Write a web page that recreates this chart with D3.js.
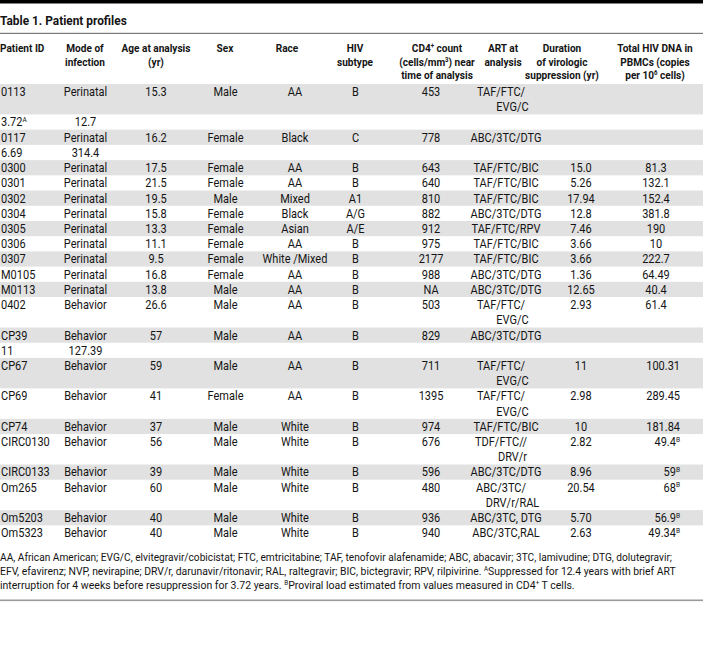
<!DOCTYPE html>
<html><head><meta charset="utf-8">
<script src="https://cdn.jsdelivr.net/npm/d3@7"></script>
<style>body{margin:0;background:#fff}svg{display:block}</style>
</head><body><svg id="c" width="703" height="661"></svg>
<script>
// ---------- DATA ----------
const title = "Table 1. Patient profiles";
const headerLines = [
  ["Patient ID"],
  ["Mode of","infection"],
  ["Age at analysis","(yr)"],
  ["Sex"],
  ["Race"],
  ["HIV","subtype"],
  ["CD4{+} count","(cells/mm{3}) near","time of analysis"],
  ["ART at","analysis"],
  ["Duration","of virologic","suppression (yr)"],
  ["Total HIV DNA in","PBMCs (copies","per 10{6} cells)"]
];
const patientIds = ["0113","3.72{A}","0117","6.69","0300","0301","0302","0304","0305","0306","0307","M0105","M0113","0402","CP39","11","CP67","CP69","CP74","CIRC0130","CIRC0133","Om265","Om5203","Om5323"];
const modes = ["Perinatal","12.7","Perinatal","314.4","Perinatal","Perinatal","Perinatal","Perinatal","Perinatal","Perinatal","Perinatal","Perinatal","Perinatal","Behavior","Behavior","127.39","Behavior","Behavior","Behavior","Behavior","Behavior","Behavior","Behavior","Behavior"];
const ages = ["15.3","","16.2","","17.5","21.5","19.5","15.8","13.3","11.1","9.5","16.8","13.8","26.6","57","","59","41","37","56","39","60","40","40"];
const sexes = ["Male","","Female","","Female","Female","Male","Female","Female","Female","Female","Female","Male","Male","Male","","Male","Female","Male","Male","Male","Male","Male","Male"];
const races = ["AA","","Black","","AA","AA","Mixed","Black","Asian","AA","White /Mixed","AA","AA","AA","AA","","AA","AA","White","White","White","White","White","White"];
const subtypes = ["B","","C","","B","B","A1","A/G","A/E","B","B","B","B","B","B","","B","B","B","B","B","B","B","B"];
const cd4Counts = ["453","","778","","643","640","810","882","912","975","2177","988","NA","503","829","","711","1395","974","676","596","480","936","940"];
const artRegimens = [["TAF/FTC/","EVG/C"],[],["ABC/3TC/DTG"],[],["TAF/FTC/BIC"],["TAF/FTC/BIC"],["TAF/FTC/BIC"],["ABC/3TC/DTG"],["TAF/FTC/RPV"],["TAF/FTC/BIC"],["TAF/FTC/BIC"],["ABC/3TC/DTG"],["ABC/3TC/DTG"],["TAF/FTC/","EVG/C"],["ABC/3TC/DTG"],[],["TAF/FTC/","EVG/C"],["TAF/FTC/","EVG/C"],["TAF/FTC/BIC"],["TDF/FTC//","DRV/r"],["ABC/3TC/DTG"],["ABC/3TC/","DRV/r/RAL"],["ABC/3TC, DTG"],["ABC/3TC,RAL"]];
const durations = ["","","","","15.0","5.26","17.94","12.8","7.46","3.66","3.66","1.36","12.65","2.93","","","11","2.98","10","2.82","8.96","20.54","5.70","2.63"];
const totalDna = ["","","","","81.3","132.1","152.4","381.8","190","10","222.7","64.49","40.4","61.4","","","100.31","289.45","181.84","49.4{B}","59{B}","68{B}","56.9{B}","49.34{B}"];
const footnotes = [
  "AA, African American; EVG/C, elvitegravir/cobicistat; FTC, emtricitabine; TAF, tenofovir alafenamide; ABC, abacavir; 3TC, lamivudine; DTG, dolutegravir;",
  "EFV, efavirenz; NVP, nevirapine; DRV/r, darunavir/ritonavir; RAL, raltegravir; BIC, bictegravir; RPV, rilpivirine. {A}Suppressed for 12.4 years with brief ART",
  "interruption for 4 weeks before resuppression for 3.72 years. {B}Proviral load estimated from values measured in CD4{+} T cells."
];

// ---------- LAYOUT / STYLE ----------
const W = 703;
const FONT = "Roboto, 'Noto Sans', sans-serif";
const INK = "#141414";
const SX = 0.88;
const svg = d3.select("#c");

function addText(parent, str, x, y, o) {
  o = o || {};
  const fs = o.fs || 12.5;
  const t = parent.append("text")
    .attr("transform", `translate(${x},${y}) scale(${o.sx || SX},1)`)
    .attr("text-anchor", o.anchor || "middle")
    .attr("font-family", FONT)
    .attr("font-size", fs)
    .attr("font-weight", o.weight || 400)
    .attr("fill", INK);
  const parts = String(str).split(/(\{[^}]*\})/).filter(p => p !== "");
  let shifted = false;
  parts.forEach(p => {
    if (p[0] === "{") {
      t.append("tspan").attr("font-size", fs * 0.6).attr("dy", shifted ? 0 : -fs * 0.36).text(p.slice(1, -1));
      shifted = true;
    } else {
      t.append("tspan").attr("dy", shifted ? fs * 0.36 : 0).text(p);
      shifted = false;
    }
  });
  return t;
}

// top bar, title, rule
svg.append("rect").attr("x", 0).attr("y", 0).attr("width", W).attr("height", 3.5).attr("fill", "#000");
addText(svg, title, 0, 24.5, {anchor: "start", fs: 13.5, weight: 700, sx: 0.88});
svg.append("rect").attr("x", 0).attr("y", 32.8).attr("width", W).attr("height", 1.2).attr("fill", "#7a7a7a");

// column positions
const colKeys = ["id","mode","age","sex","race","subtype","cd4","art","dur","total"];
const headerX = d3.scaleOrdinal().domain(colKeys).range([0,85,156,225,287,355,437,503,562,655]);
const dataX = d3.scaleOrdinal().domain(colKeys).range([1,85.5,156,225.5,295,355.5,431,506,581,656]);

// header
const headerY = d3.scaleLinear().domain([0, 1]).range([48.3, 61.7]);
headerLines.forEach((lines, ci) => {
  const k = colKeys[ci];
  lines.forEach((ln, li) => {
    addText(svg, ln, headerX(k), headerY(li) + 4, {fs: 11.2, weight: 700, sx: 0.9, anchor: k === "id" ? "start" : "middle"});
  });
});

// body rows
const rows = patientIds.map((id, i) => ({
  id, mode: modes[i], age: ages[i], sex: sexes[i], race: races[i], subtype: subtypes[i],
  cd4: cd4Counts[i], art: artRegimens[i], dur: durations[i], total: totalDna[i],
  n: Math.max(1, artRegimens[i].length)
}));
let acc = 0;
rows.forEach(r => { r.start = acc; acc += r.n; });
const totalLines = acc;
const y = d3.scaleLinear().domain([0, totalLines]).range([84, 540.6]);
const rightTotalsFrom = patientIds.indexOf("CP67");

const body = svg.append("g");
body.selectAll("rect.band").data(rows.filter((r, i) => i % 2 === 0)).join("rect")
  .attr("class", "band").attr("x", 0).attr("width", W)
  .attr("y", r => y(r.start)).attr("height", r => y(r.start + r.n) - y(r.start))
  .attr("fill", "#e1e1e1");

const FS = 12.5;
const base = (line) => y(line + 0.5) + FS * 0.35;
rows.forEach((r, i) => {
  const b0 = base(r.start);
  addText(body, r.id, dataX("id"), b0, {anchor: "start", fs: FS});
  ["mode","age","sex","race","subtype","cd4","dur"].forEach(k => {
    if (r[k]) addText(body, r[k], dataX(k), b0, {fs: FS});
  });
  if (r.total) {
    if (i >= rightTotalsFrom) addText(body, r.total, 680, b0, {fs: FS, anchor: "end"});
    else addText(body, r.total, dataX("total"), b0, {fs: FS});
  }
  if (r.art.length === 1) addText(body, r.art[0], dataX("art"), b0, {fs: FS});
  else r.art.forEach((ln, li) => addText(body, ln, dataX("art") + (li === 0 ? -5 : 6.5), base(r.start + li), {fs: FS}));
});

// footnotes: each line condensed horizontally to the width it spans in the reference
const footY = d3.scaleLinear().domain([0, 1]).range([557, 571]);
const footWidths = [673, 677, 575];
footnotes.forEach((ln, i) => {
  const by = footY(i) + 3.8;
  const t = addText(svg, ln, 0, by, {anchor: "start", fs: 11, sx: 1});
  const len = t.node().getComputedTextLength();
  t.attr("transform", `translate(0,${by}) scale(${footWidths[i] / len},1)`);
});
svg.append("rect").attr("x", 0).attr("y", 599.5).attr("width", W).attr("height", 1.6).attr("fill", "#9a9a9a");
</script>
</body></html>
